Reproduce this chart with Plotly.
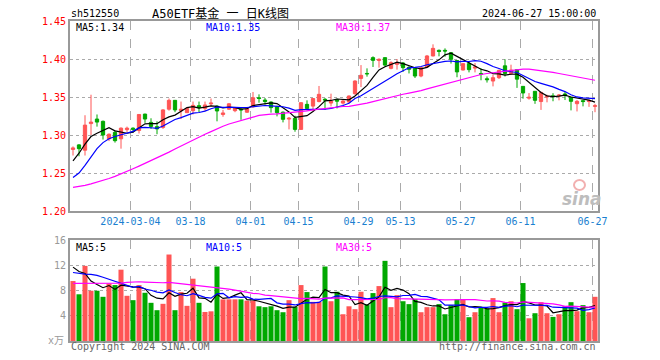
import plotly.graph_objects as go
import pandas as pd

# ---------------- data ----------------
dates = [
    "2024-02-19", "2024-02-20", "2024-02-21", "2024-02-22", "2024-02-23",
    "2024-02-26", "2024-02-27", "2024-02-28", "2024-02-29", "2024-03-01",
    "2024-03-04", "2024-03-05", "2024-03-06", "2024-03-07", "2024-03-08",
    "2024-03-11", "2024-03-12", "2024-03-13", "2024-03-14", "2024-03-15",
    "2024-03-18", "2024-03-19", "2024-03-20", "2024-03-21", "2024-03-22",
    "2024-03-25", "2024-03-26", "2024-03-27", "2024-03-28", "2024-03-29",
    "2024-04-01", "2024-04-02", "2024-04-03", "2024-04-08", "2024-04-09",
    "2024-04-10", "2024-04-11", "2024-04-12", "2024-04-15", "2024-04-16",
    "2024-04-17", "2024-04-18", "2024-04-19", "2024-04-22", "2024-04-23",
    "2024-04-24", "2024-04-25", "2024-04-26", "2024-04-29", "2024-04-30",
    "2024-05-06", "2024-05-07", "2024-05-08", "2024-05-09", "2024-05-10",
    "2024-05-13", "2024-05-14", "2024-05-15", "2024-05-16", "2024-05-17",
    "2024-05-20", "2024-05-21", "2024-05-22", "2024-05-23", "2024-05-24",
    "2024-05-27", "2024-05-28", "2024-05-29", "2024-05-30", "2024-05-31",
    "2024-06-03", "2024-06-04", "2024-06-05", "2024-06-06", "2024-06-07",
    "2024-06-11", "2024-06-12", "2024-06-13", "2024-06-14", "2024-06-17",
    "2024-06-18", "2024-06-19", "2024-06-20", "2024-06-21", "2024-06-24",
    "2024-06-25", "2024-06-26", "2024-06-27",
]

open_ = [
    1.281, 1.287, 1.280, 1.315, 1.321, 1.318, 1.295, 1.3035, 1.295, 1.307,
    1.309, 1.306, 1.3275, 1.3166, 1.311, 1.310, 1.334, 1.3456, 1.332, 1.3294,
    1.332, 1.3386, 1.335, 1.341, 1.338, 1.327, 1.334, 1.332, 1.334, 1.330,
    1.337, 1.349, 1.346, 1.3434, 1.337, 1.330, 1.321, 1.3219, 1.3074, 1.3403,
    1.338, 1.344, 1.347, 1.342, 1.3465, 1.342, 1.3434, 1.3543, 1.3745, 1.381,
    1.4018, 1.398, 1.4018, 1.3877, 1.393, 1.3947, 1.389, 1.3877, 1.3776, 1.3895,
    1.404, 1.4114, 1.4114, 1.4083, 1.398, 1.3855, 1.3939, 1.388, 1.381, 1.374,
    1.371, 1.3754, 1.391, 1.381, 1.386, 1.364, 1.3485, 1.3575, 1.344, 1.350,
    1.3515, 1.3515, 1.354, 1.3496, 1.3412, 1.3452, 1.344, 1.3377,
]
high = [
    1.285, 1.288, 1.326, 1.353, 1.327, 1.319, 1.302, 1.306, 1.310, 1.311,
    1.310, 1.327, 1.328, 1.322, 1.318, 1.334, 1.348, 1.346, 1.344, 1.3365,
    1.344, 1.344, 1.344, 1.348, 1.339, 1.333, 1.342, 1.337, 1.336, 1.335,
    1.3566, 1.3535, 1.3487, 1.344, 1.3385, 1.331, 1.3236, 1.3254, 1.343, 1.3456,
    1.348, 1.3645, 1.3487, 1.3544, 1.348, 1.346, 1.352, 1.372, 1.392, 1.3877,
    1.4035, 1.4009, 1.402, 1.397, 1.400, 1.396, 1.3905, 1.388, 1.3895, 1.4053,
    1.4193, 1.4125, 1.414, 1.409, 1.3985, 1.394, 1.396, 1.3947, 1.388, 1.377,
    1.3794, 1.386, 1.3996, 1.3925, 1.386, 1.364, 1.3552, 1.3575, 1.357, 1.353,
    1.355, 1.354, 1.357, 1.350, 1.346, 1.3456, 1.3465, 1.341,
]
low = [
    1.273, 1.272, 1.273, 1.300, 1.311, 1.294, 1.292, 1.290, 1.282, 1.304,
    1.303, 1.302, 1.316, 1.308, 1.301, 1.308, 1.332, 1.330, 1.321, 1.329,
    1.327, 1.330, 1.3316, 1.338, 1.318, 1.324, 1.333, 1.330, 1.320, 1.329,
    1.336, 1.3425, 1.340, 1.3294, 1.3245, 1.3166, 1.3074, 1.3043, 1.3074, 1.3324,
    1.331, 1.343, 1.3333, 1.3377, 1.335, 1.340, 1.342, 1.353, 1.363, 1.3768,
    1.3895, 1.3886, 1.390, 1.3864, 1.386, 1.383, 1.381, 1.375, 1.376, 1.388,
    1.4035, 1.4035, 1.403, 1.394, 1.376, 1.385, 1.3824, 1.3824, 1.372, 1.369,
    1.364, 1.3737, 1.377, 1.379, 1.362, 1.3478, 1.3465, 1.341, 1.333, 1.343,
    1.3444, 1.3456, 1.346, 1.3324, 1.331, 1.3377, 1.337, 1.330,
]
close = [
    1.283, 1.282, 1.313, 1.317, 1.317, 1.300, 1.301, 1.2925, 1.309, 1.309,
    1.3075, 1.327, 1.321, 1.3113, 1.308, 1.333, 1.3456, 1.333, 1.334, 1.335,
    1.339, 1.336, 1.3395, 1.342, 1.3316, 1.329, 1.341, 1.336, 1.333, 1.3346,
    1.349, 1.348, 1.344, 1.336, 1.3294, 1.3206, 1.322, 1.3074, 1.3425, 1.335,
    1.348, 1.3535, 1.346, 1.3447, 1.3445, 1.3447, 1.3513, 1.371, 1.3785, 1.3805,
    1.3982, 1.3996, 1.392, 1.3952, 1.3945, 1.3886, 1.3864, 1.3776, 1.3886, 1.404,
    1.414, 1.410, 1.4105, 1.3996, 1.383, 1.3939, 1.386, 1.3895, 1.380, 1.3728,
    1.3754, 1.385, 1.381, 1.3855, 1.3735, 1.3553, 1.3496, 1.3456, 1.356, 1.351,
    1.3505, 1.3525, 1.3517, 1.3443, 1.3443, 1.344, 1.345, 1.3385,
]
volume = [  # 万手
    9.5, 7.4, 11.9, 7.96, 7.96, 7.0, 9.1, 8.86, 11.3, 7.16,
    6.47, 8.86, 7.64, 6.05, 4.88, 5.89, 13.7, 4.88, 7.75, 5.57,
    9.87, 6.05, 4.6, 4.7, 11.8, 6.6, 6.6, 6.6, 6.6, 6.4,
    6.4, 5.5, 5.36, 5.5, 4.88, 4.56, 6.47, 5.4, 8.86, 7.75,
    6.2, 6.2, 11.8, 6.3, 7.8, 4.24, 5.5, 5.04, 7.8, 5.78,
    7.59, 8.7, 12.7, 5.36, 7.27, 6.3, 5.84, 6.63, 4.56, 5.36,
    5.36, 5.84, 4.24, 5.68, 6.63, 6.63, 3.77, 4.56, 5.36, 5.15,
    6.8, 4.56, 6.1, 6.3, 5.04, 9.18, 3.6, 4.4, 6.15, 4.4,
    3.82, 4.24, 5.5, 6.15, 4.72, 5.68, 4.56, 7.0,
]

# moving-average values for the first bars (their windows reach back before
# the first visible day, so they are read from the picture)
ma5_head = [1.266, 1.276, 1.288, 1.298]
ma10_head = [1.244, 1.250, 1.260, 1.271, 1.282, 1.290, 1.295, 1.298, 1.300]
ma30_head = [
    1.2310, 1.2322, 1.2338, 1.2356, 1.2378, 1.2402, 1.2428, 1.2455, 1.2485, 1.2518,
    1.2555, 1.2590, 1.2625, 1.2660, 1.2695, 1.2735, 1.2775, 1.2815, 1.2855, 1.2900,
    1.2940, 1.2975, 1.3010, 1.3045, 1.3085, 1.3115, 1.3145, 1.3170, 1.3190,
]
vma5_head = [11.7, 11.0, 10.7, 9.5]
vma10_head = [10.85, 10.7, 10.6, 10.55, 10.4, 10.1, 9.8, 9.5, 9.2]
vma30_head = [
    9.12, 9.12, 9.12, 9.18, 9.18, 9.12, 9.07, 9.07, 9.18, 9.28,
    9.39, 9.39, 9.34, 9.28, 9.23, 9.23, 9.28, 9.18, 9.07, 8.97,
    8.86, 8.75, 8.59, 8.49, 8.49, 8.38, 8.22, 8.06, 7.90,
]

tick_dates = ["2024-03-04", "2024-03-18", "2024-04-01", "2024-04-15", "2024-04-29",
              "2024-05-13", "2024-05-27", "2024-06-11", "2024-06-27"]
tick_text = ["2024-03-04", "03-18", "04-01", "04-15", "04-29",
             "05-13", "05-27", "06-11", "06-27"]

price_ticks = [1.20, 1.25, 1.30, 1.35, 1.40, 1.45]
vol_ticks = [4, 8, 12, 16]


# ---------------- helpers ----------------
def moving_avg(values, n, head):
    s = pd.Series(values).rolling(n).mean().tolist()
    return list(head) + s[len(head):]


idx = list(range(len(dates)))
ma5 = moving_avg(close, 5, ma5_head)
ma10 = moving_avg(close, 10, ma10_head)
ma30 = moving_avg(close, 30, ma30_head)
vma5 = moving_avg(volume, 5, vma5_head)
vma10 = moving_avg(volume, 10, vma10_head)
vma30 = moving_avg(volume, 30, vma30_head)

RED = "#ff5555"
GREEN = "#00a800"
bar_colors = [RED if c >= o else GREEN for o, c in zip(open_, close)]

MONO = "DejaVu Sans Mono"

fig = go.Figure()
fig.add_trace(go.Candlestick(
    x=idx, open=open_, high=high, low=low, close=close,
    increasing=dict(line=dict(color=RED, width=1), fillcolor=RED),
    decreasing=dict(line=dict(color=GREEN, width=1), fillcolor=GREEN),
    whiskerwidth=0, xaxis="x", yaxis="y", hoverinfo="skip",
))
for vals, col in [(ma5, "#000000"), (ma10, "#0000ff"), (ma30, "#ff00ff")]:
    fig.add_trace(go.Scatter(x=idx, y=vals, mode="lines", line=dict(color=col, width=1.2),
                             xaxis="x", yaxis="y", hoverinfo="skip"))

fig.add_trace(go.Bar(x=idx, y=volume, marker=dict(color=bar_colors, line=dict(width=0)),
                     width=0.84, xaxis="x2", yaxis="y2", hoverinfo="skip"))
for vals, col in [(vma5, "#000000"), (vma10, "#0000ff"), (vma30, "#ff00ff")]:
    fig.add_trace(go.Scatter(x=idx, y=vals, mode="lines", line=dict(color=col, width=1.2),
                             xaxis="x2", yaxis="y2", hoverinfo="skip"))

tickvals_x = [dates.index(d) - 0.42 for d in tick_dates]

common_x = dict(
    range=[-0.5, len(dates) - 0.5], tickvals=tickvals_x, showgrid=True,
    gridcolor="#aaaaaa", griddash="dash", gridwidth=1, zeroline=False,
    showline=True, mirror=True, linecolor="#999999", linewidth=2, ticks="",
)
common_y = dict(showgrid=True, gridcolor="#aaaaaa", griddash="dot", gridwidth=1,
                zeroline=False, showline=True, mirror=True, linecolor="#999999",
                linewidth=2, ticks="")

L, R, T, B = 70, 598, 21, 341
W, H = 660, 360

fig.update_layout(
    width=W, height=H,
    margin=dict(l=L, r=W - R, t=T, b=H - B, pad=0),
    paper_bgcolor="white", plot_bgcolor="white",
    showlegend=False, boxgap=0.22,
    font=dict(family=MONO, size=10, color="#333333"),
    xaxis=dict(common_x, anchor="y", ticktext=tick_text,
               tickfont=dict(family=MONO, size=10, color="#1a7fd0"),
               rangeslider=dict(visible=False)),
    yaxis=dict(common_y, domain=[(B - 211) / (B - T), 1], range=[1.20, 1.45],
               tickvals=price_ticks, ticktext=[f"{v:.2f}" for v in price_ticks],
               tickfont=dict(family=MONO, size=10, color="#ff0000")),
    xaxis2=dict(common_x, anchor="y2", matches="x", showticklabels=False),
    yaxis2=dict(common_y, domain=[0, (B - 240) / (B - T)], range=[0, 16],
                tickvals=vol_ticks, ticktext=[str(v) for v in vol_ticks],
                tickfont=dict(family=MONO, size=10, color="#999999")),
)


def px(x):
    return (x - L) / (R - L)


def py(y):
    return (B - y) / (B - T)


def note(text, x, y, color="#000000", xanchor="left", size=10, family=MONO, **kw):
    fig.add_annotation(text=text, x=px(x), y=py(y), xref="paper", yref="paper",
                       xanchor=xanchor, yanchor="middle", showarrow=False,
                       font=dict(family=family, size=size, color=color), **kw)


# header
note("sh512550", 69, 13)
note("A50ETF基金 一 日K线图", 150, 13, size=12, family=f"{MONO}, Noto Sans CJK SC")
note("2024-06-27 15:00:00", 598, 13, xanchor="right")

# price legends
note(f"MA5:{ma5[-1]:.2f}", 74, 27)
note(f"MA10:{ma10[-1]:.2f}", 204, 27, color="#0000ff")
note(f"MA30:{ma30[-1]:.2f}", 334, 27, color="#ff00ff")

# volume legends
note(f"MA5:{int(vma5[-1])}", 74, 247)
note(f"MA10:{int(vma10[-1])}", 204, 247, color="#0000ff")
note(f"MA30:{int(vma30[-1])}", 334, 247, color="#ff00ff")

note("x万", 66, 340, color="#999999", xanchor="right", family=f"{MONO}, Noto Sans CJK SC")

# footer
note("Copyright 2024 SINA.COM", 69, 346, color="#666666")
note("http://finance.sina.com.cn", 598, 346, color="#666666", xanchor="right")

# watermark: logo circle (shape) + "sina" text
fig.add_shape(type="circle", xref="paper", yref="paper",
              x0=px(574), x1=px(585), y0=py(190), y1=py(180),
              line=dict(color="#f2b0b0", width=2), fillcolor="rgba(0,0,0,0)")
note("<b><i>sina</i></b>", 582, 199, color="#bdbdbd", xanchor="center", size=17,
     family="DejaVu Sans")

fig.write_html("out.html", config={"displayModeBar": False},
               post_script="document.body.style.margin='0px';")
